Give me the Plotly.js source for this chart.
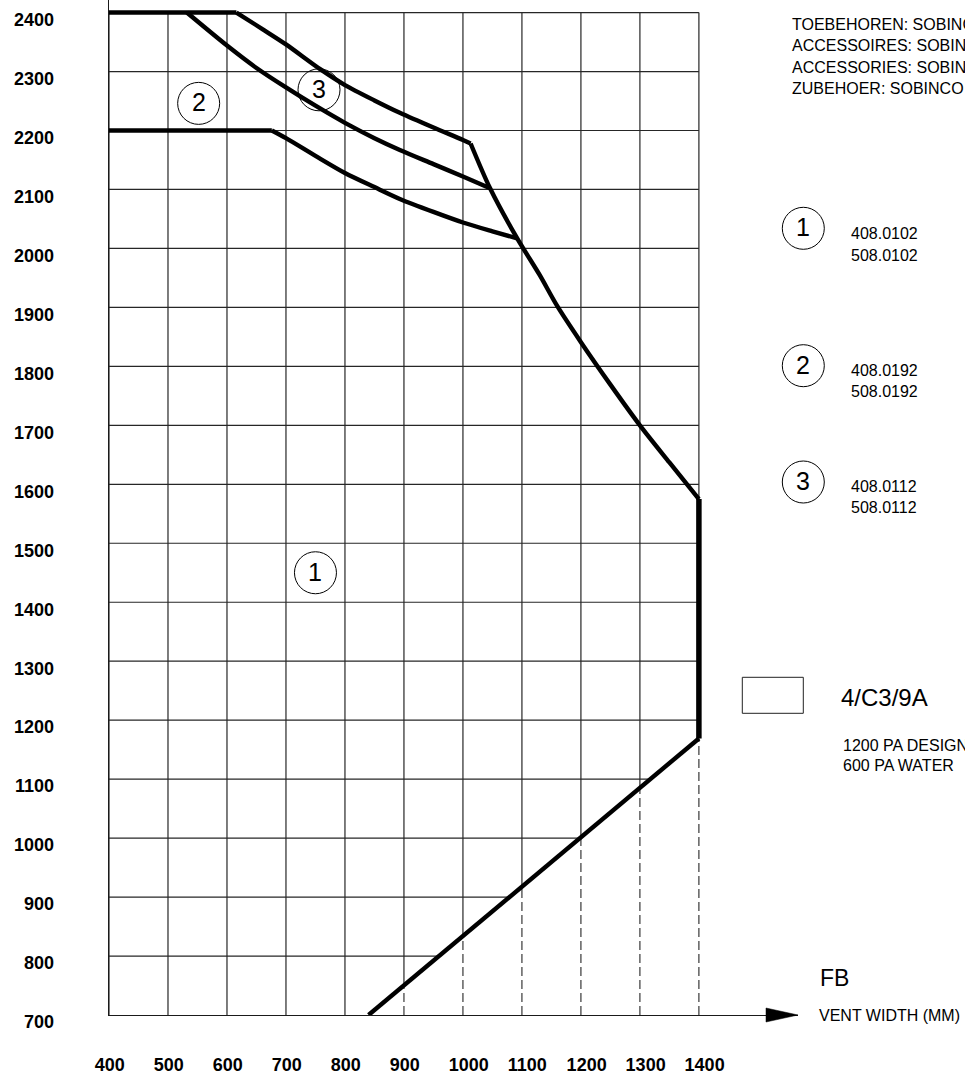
<!DOCTYPE html>
<html>
<head>
<meta charset="utf-8">
<script src="https://cdn.plot.ly/plotly-3.0.1.min.js"></script>
<style>
html,body{margin:0;padding:0;background:#ffffff;}
#chart{width:965px;height:1074px;}
</style>
</head>
<body>
<div id="chart"></div>
<script>
// ---------- data ----------
const xTicks = [400, 500, 600, 700, 800, 900, 1000, 1100, 1200, 1300, 1400];
const xTickLabels = ['400', '500', '600', '700', '800', '900', '1000', '1100', '1200', '1300', '1400'];
const yTicks = [700, 800, 900, 1000, 1100, 1200, 1300, 1400, 1500, 1600, 1700, 1800, 1900, 2000, 2100, 2200, 2300, 2400];
const yTickLabels = ['700', '800', '900', '1000', '1100', '1200', '1300', '1400', '1500', '1600', '1700', '1800', '1900', '2000', '2100', '2200', '2300', '2400'];

// outer envelope (zone 3 upper limit + right side + lower limit)
const topLineX = [400, 616];
const topLineY = [2400, 2400];
const curve3X = [616, 660, 700, 758, 800, 850, 893, 950, 1000, 1013];
const curve3Y = [2400, 2372, 2346, 2304, 2277, 2251, 2230, 2205, 2184, 2178];
const rightEdgeX = [1013, 1046, 1092, 1130, 1160, 1200, 1250, 1300, 1350, 1400];
const rightEdgeY = [2178, 2102, 2017, 1955, 1902, 1841, 1769, 1700, 1637, 1575];
const sideX = [1400, 1400];
const sideY = [1575, 1169];
const baseX = [1400, 840];
const baseY = [1169, 700];

// zone 2 limit
const curve2X = [532, 600, 650, 700, 750, 800, 850, 893, 950, 1000, 1046];
const curve2Y = [2400, 2344, 2306, 2273, 2242, 2213, 2187, 2167, 2143, 2122, 2102];
// zone 1 limit (flat part, then curve)
const curve1X = [400, 676, 700, 750, 800, 850, 893, 950, 1000, 1050, 1092];
const curve1Y = [2200, 2200, 2187, 2157, 2128, 2104, 2084, 2062, 2044, 2029, 2017];

// zone markers
const zoneLabels = ['1', '2', '3'];
const zoneX = [750, 552, 756];
const zoneY = [1450, 2246, 2269];

// legend / notes
const legendIds = ['1', '2', '3'];
const legendCodesA = ['408.0102', '408.0192', '408.0112'];
const legendCodesB = ['508.0102', '508.0192', '508.0112'];
const accessoryLines = ['TOEBEHOREN: SOBINCO', 'ACCESSOIRES: SOBINCO', 'ACCESSORIES: SOBINCO', 'ZUBEHOER: SOBINCO'];
const productCode = '4/C3/9A';
const pressureLines = ['1200 PA DESIGN', '600 PA WATER'];
const axisCode = 'FB';
const axisName = 'VENT WIDTH (MM)';

// ---------- layout helpers ----------
const W = 965, H = 1074;
const M = {l: 109, r: 167, t: 0, b: 59};
const PW = W - M.l - M.r, PH = H - M.t - M.b;
const px = v => (v - M.l) / PW;          // pixel x -> paper
const py = v => (H - M.b - v) / PH;      // pixel y -> paper
const FONT = 'Liberation Sans, Arial, Helvetica, sans-serif';
const INK = '#000000';
const GRID = '#262626';

// lower limit line (derived from base arrays)
const bx0 = baseX[1], by0 = baseY[1], bx1 = baseX[0], by1 = baseY[0];
const lowY = x => (x <= bx0 ? by0 : by0 + (x - bx0) * (by1 - by0) / (bx1 - bx0));
const lowX = y => bx0 + (y - by0) * (bx1 - bx0) / (by1 - by0);
const xMax = xTicks[xTicks.length - 1], yMax = yTicks[yTicks.length - 1];
const xMin = xTicks[0], yMin = yTicks[0];

// grid
const gx = [], gy = [], dx = [], dy = [];
xTicks.forEach(t => {
  const yl = lowY(t);
  gx.push(t, t, null); gy.push(yl, yMax, null);
  if (yl > yMin) { dx.push(t, t, null); dy.push(yMin, yl, null); }
});
yTicks.forEach(v => {
  if (v === yMin) return;
  gx.push(xMin, Math.min(xMax, lowX(v)), null); gy.push(v, v, null);
});

const lineTrace = (x, y, w, shape) => ({
  x, y, type: 'scatter', mode: 'lines', hoverinfo: 'skip', showlegend: false,
  line: {color: INK, width: w, shape: shape || 'linear', smoothing: 0.8}
});

const traces = [
  {x: gx, y: gy, type: 'scatter', mode: 'lines', hoverinfo: 'skip', showlegend: false,
   line: {color: GRID, width: 1.2}},
  {x: dx, y: dy, type: 'scatter', mode: 'lines', hoverinfo: 'skip', showlegend: false,
   line: {color: GRID, width: 1.1, dash: '9px,4px'}},
  lineTrace(topLineX, topLineY, 4.6),
  lineTrace(curve3X, curve3Y, 4.4, 'spline'),
  lineTrace(rightEdgeX, rightEdgeY, 4.4, 'spline'),
  lineTrace(sideX, sideY, 5.5),
  lineTrace(baseX, baseY, 4.4),
  lineTrace(curve2X, curve2Y, 4.4, 'spline'),
  lineTrace(curve1X.slice(0, 2), curve1Y.slice(0, 2), 4.6),
  lineTrace(curve1X.slice(1), curve1Y.slice(1), 4.4, 'spline')
];

// ---------- shapes & annotations ----------
const shapes = [];
const annotations = [];
const R = 21;

zoneLabels.forEach((lab, i) => {
  shapes.push({type: 'circle', xref: 'x', yref: 'y', xsizemode: 'pixel', ysizemode: 'pixel',
    xanchor: zoneX[i], yanchor: zoneY[i], x0: -R, x1: R, y0: -R, y1: R,
    line: {color: INK, width: 1}, fillcolor: 'rgba(0,0,0,0)', layer: 'above'});
  annotations.push({xref: 'x', yref: 'y', x: zoneX[i], y: zoneY[i], text: lab, showarrow: false,
    xanchor: 'center', yanchor: 'middle', borderpad: 0, yshift: 1,
    font: {family: FONT, size: 25, color: INK}});
});

// legend circles
const legCY = [228.3, 365.7, 482];
const legCodeA = [233.3, 370, 486];
const legCodeB = [255, 391.7, 508];
legendIds.forEach((lab, i) => {
  shapes.push({type: 'circle', xref: 'paper', yref: 'paper', xsizemode: 'pixel', ysizemode: 'pixel',
    xanchor: px(803.3), yanchor: py(legCY[i]), x0: -R, x1: R, y0: -R, y1: R,
    line: {color: INK, width: 1}, fillcolor: 'rgba(0,0,0,0)'});
  annotations.push({xref: 'paper', yref: 'paper', x: px(803.3), y: py(legCY[i]), text: lab, showarrow: false,
    xanchor: 'center', yanchor: 'middle', borderpad: 0, yshift: 1,
    font: {family: FONT, size: 25, color: INK}});
  annotations.push({xref: 'paper', yref: 'paper', x: px(850), y: py(legCodeA[i]), text: legendCodesA[i],
    showarrow: false, xanchor: 'left', yanchor: 'middle', borderpad: 0,
    font: {family: FONT, size: 16, color: INK}});
  annotations.push({xref: 'paper', yref: 'paper', x: px(850), y: py(legCodeB[i]), text: legendCodesB[i],
    showarrow: false, xanchor: 'left', yanchor: 'middle', borderpad: 0,
    font: {family: FONT, size: 16, color: INK}});
});

// accessory text block
const accY = [24.5, 45.7, 67, 88.3];
accessoryLines.forEach((t, i) => {
  annotations.push({xref: 'paper', yref: 'paper', x: px(791), y: py(accY[i]), text: t, showarrow: false,
    xanchor: 'left', yanchor: 'middle', borderpad: 0,
    font: {family: FONT, size: 16, color: INK}});
});

// product box
shapes.push({type: 'rect', xref: 'paper', yref: 'paper', x0: px(742.3), x1: px(803.3), y0: py(713.3), y1: py(677.3),
  line: {color: '#222222', width: 1}, fillcolor: 'rgba(0,0,0,0)'});
annotations.push({xref: 'paper', yref: 'paper', x: px(840), y: py(697.5), text: productCode, showarrow: false,
  xanchor: 'left', yanchor: 'middle', borderpad: 0, font: {family: FONT, size: 24, color: INK}});
const presY = [745, 765];
pressureLines.forEach((t, i) => {
  annotations.push({xref: 'paper', yref: 'paper', x: px(842), y: py(presY[i]), text: t, showarrow: false,
    xanchor: 'left', yanchor: 'middle', borderpad: 0, font: {family: FONT, size: 16, color: INK}});
});

// axis arrow + names
shapes.push({type: 'path', xref: 'paper', yref: 'paper', xsizemode: 'pixel', ysizemode: 'pixel',
  xanchor: 1, yanchor: 0, path: 'M0,0 L-32,7 L-32,-7 Z', fillcolor: INK, line: {color: INK, width: 0.5}});
annotations.push({xref: 'paper', yref: 'paper', x: px(819), y: py(978), text: axisCode, showarrow: false,
  xanchor: 'left', yanchor: 'middle', borderpad: 0, font: {family: FONT, size: 23, color: INK}});
annotations.push({xref: 'paper', yref: 'paper', x: px(817.5), y: py(1015), text: axisName, showarrow: false,
  xanchor: 'left', yanchor: 'middle', borderpad: 0, font: {family: FONT, size: 16, color: INK}});

const tickFont = {family: 'Liberation Sans, Arial, Helvetica, sans-serif', size: 18, color: INK, weight: 'bold'};

const layout = {
  width: W, height: H,
  margin: M,
  paper_bgcolor: '#ffffff', plot_bgcolor: '#ffffff',
  showlegend: false,
  font: {family: FONT, color: INK},
  xaxis: {
    range: [400, 1568], tickmode: 'array', tickvals: xTicks, ticktext: xTickLabels,
    showgrid: false, zeroline: false, showline: true, linecolor: '#1a1a1a', linewidth: 1.4,
    ticks: '', ticklabelposition: 'outside right', ticklabelshift: -15, ticklabelstandoff: 33,
    tickfont: tickFont, fixedrange: true
  },
  yaxis: {
    range: [700, 2421.3], tickmode: 'array', tickvals: yTicks, ticktext: yTickLabels,
    showgrid: false, zeroline: false, showline: true, linecolor: '#1a1a1a', linewidth: 1.4,
    ticks: '', ticklabelshift: 7, ticklabelstandoff: 50,
    tickfont: tickFont, fixedrange: true
  },
  shapes, annotations
};

Plotly.newPlot('chart', traces, layout, {staticPlot: true, displayModeBar: false});
</script>
</body>
</html>
